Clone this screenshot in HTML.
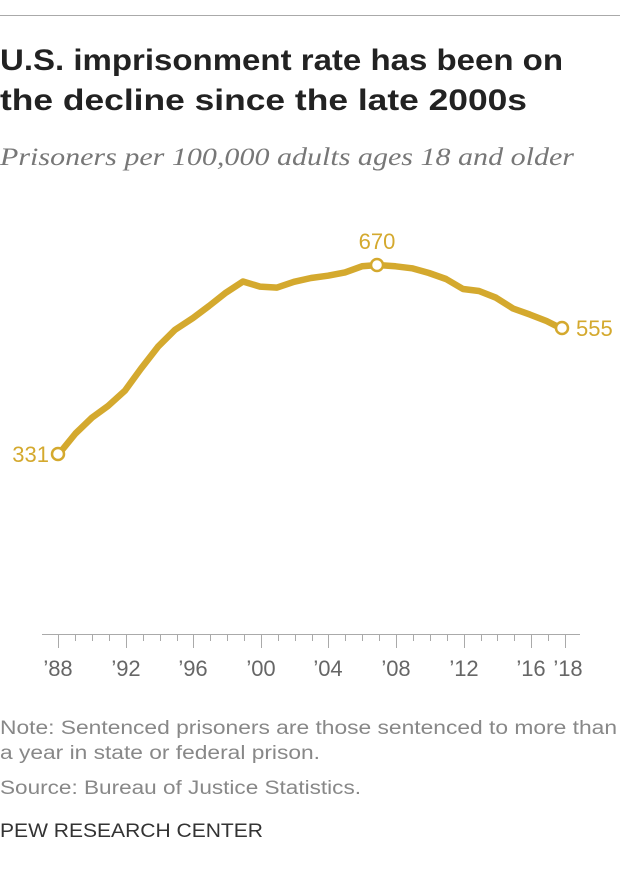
<!DOCTYPE html>
<html><head><meta charset="utf-8"><style>
body{margin:0;background:#fff;width:620px;height:882px;overflow:hidden;font-family:"Liberation Sans",sans-serif}
</style></head><body>
<svg width="620" height="882" xmlns="http://www.w3.org/2000/svg">
<line x1="0" y1="15.5" x2="620" y2="15.5" stroke="#aaa" stroke-width="1"/>
<text x="0" y="70" font-family="Liberation Sans" font-weight="bold" font-size="30" fill="#222" textLength="563" lengthAdjust="spacingAndGlyphs">U.S. imprisonment rate has been on</text>
<text x="0" y="110" font-family="Liberation Sans" font-weight="bold" font-size="30" fill="#222" textLength="527" lengthAdjust="spacingAndGlyphs">the decline since the late 2000s</text>
<text x="0" y="165" font-family="Liberation Serif" font-style="italic" font-size="25" fill="#777" textLength="574" lengthAdjust="spacingAndGlyphs">Prisoners per 100,000 adults ages 18 and older</text>
<line x1="42" y1="634.5" x2="580" y2="634.5" stroke="#aaa" stroke-width="1"/>
<g font-size="22" fill="#666" text-anchor="middle" font-family="Liberation Sans">
<text x="58" y="676">’88</text><text x="126" y="676">’92</text><text x="193" y="676">’96</text><text x="261" y="676">’00</text><text x="328" y="676">’04</text><text x="396" y="676">’08</text><text x="464" y="676">’12</text><text x="531" y="676">’16</text><text x="568" y="676">’18</text>
</g>
<polyline fill="none" stroke="#d4a92e" stroke-width="6.5" stroke-linejoin="round" points="58,455 75.5,433.5 92,417.6 108,406 125,390.6 141,368.6 158,346.7 175,329.8 193,318 209,306 226,292.6 243,281.5 260,286.6 277,287.6 294,281.8 311,278 328,275.7 345,272.4 362,266.3 378,265 395.5,266.3 412,268.3 429,273 446,279 463,289 479,291 496,297.7 513,308.5 530,314.6 546.5,321 562,328.8"/>
<g fill="#fff" stroke="#d4a92e" stroke-width="2.5">
<circle cx="58" cy="454" r="6"/><circle cx="377" cy="265" r="6"/><circle cx="562" cy="328" r="6"/>
</g>
<g font-size="22" fill="#d4a92e" font-family="Liberation Sans">
<text x="49" y="462" text-anchor="end">331</text>
<text x="377" y="249" text-anchor="middle">670</text>
<text x="576" y="336">555</text>
</g>
<g font-size="19" fill="#888" font-family="Liberation Sans">
<text x="0" y="734" textLength="617" lengthAdjust="spacingAndGlyphs">Note: Sentenced prisoners are those sentenced to more than</text>
<text x="0" y="759" textLength="320" lengthAdjust="spacingAndGlyphs">a year in state or federal prison.</text>
<text x="0" y="794" textLength="361" lengthAdjust="spacingAndGlyphs">Source: Bureau of Justice Statistics.</text>
</g>
<text x="0" y="837" font-size="19" fill="#333" font-family="Liberation Sans" textLength="263" lengthAdjust="spacingAndGlyphs">PEW RESEARCH CENTER</text>
<g stroke="#aaa" stroke-width="1">
<line x1="58.5" y1="635" x2="58.5" y2="648"/><line x1="75.5" y1="635" x2="75.5" y2="641"/><line x1="92.5" y1="635" x2="92.5" y2="641"/><line x1="109.5" y1="635" x2="109.5" y2="641"/>
<line x1="126.5" y1="635" x2="126.5" y2="648"/><line x1="143.5" y1="635" x2="143.5" y2="641"/><line x1="160.5" y1="635" x2="160.5" y2="641"/><line x1="177.5" y1="635" x2="177.5" y2="641"/>
<line x1="193.5" y1="635" x2="193.5" y2="648"/><line x1="210.5" y1="635" x2="210.5" y2="641"/><line x1="227.5" y1="635" x2="227.5" y2="641"/><line x1="244.5" y1="635" x2="244.5" y2="641"/>
<line x1="261.5" y1="635" x2="261.5" y2="648"/><line x1="278.5" y1="635" x2="278.5" y2="641"/><line x1="295.5" y1="635" x2="295.5" y2="641"/><line x1="312.5" y1="635" x2="312.5" y2="641"/>
<line x1="328.5" y1="635" x2="328.5" y2="648"/><line x1="345.5" y1="635" x2="345.5" y2="641"/><line x1="362.5" y1="635" x2="362.5" y2="641"/><line x1="379.5" y1="635" x2="379.5" y2="641"/>
<line x1="396.5" y1="635" x2="396.5" y2="648"/><line x1="413.5" y1="635" x2="413.5" y2="641"/><line x1="430.5" y1="635" x2="430.5" y2="641"/><line x1="447.5" y1="635" x2="447.5" y2="641"/>
<line x1="464.5" y1="635" x2="464.5" y2="648"/><line x1="481.5" y1="635" x2="481.5" y2="641"/><line x1="497.5" y1="635" x2="497.5" y2="641"/><line x1="514.5" y1="635" x2="514.5" y2="641"/>
<line x1="531.5" y1="635" x2="531.5" y2="648"/><line x1="548.5" y1="635" x2="548.5" y2="641"/><line x1="565.5" y1="635" x2="565.5" y2="648"/>
</g>
</svg>
</body></html>
